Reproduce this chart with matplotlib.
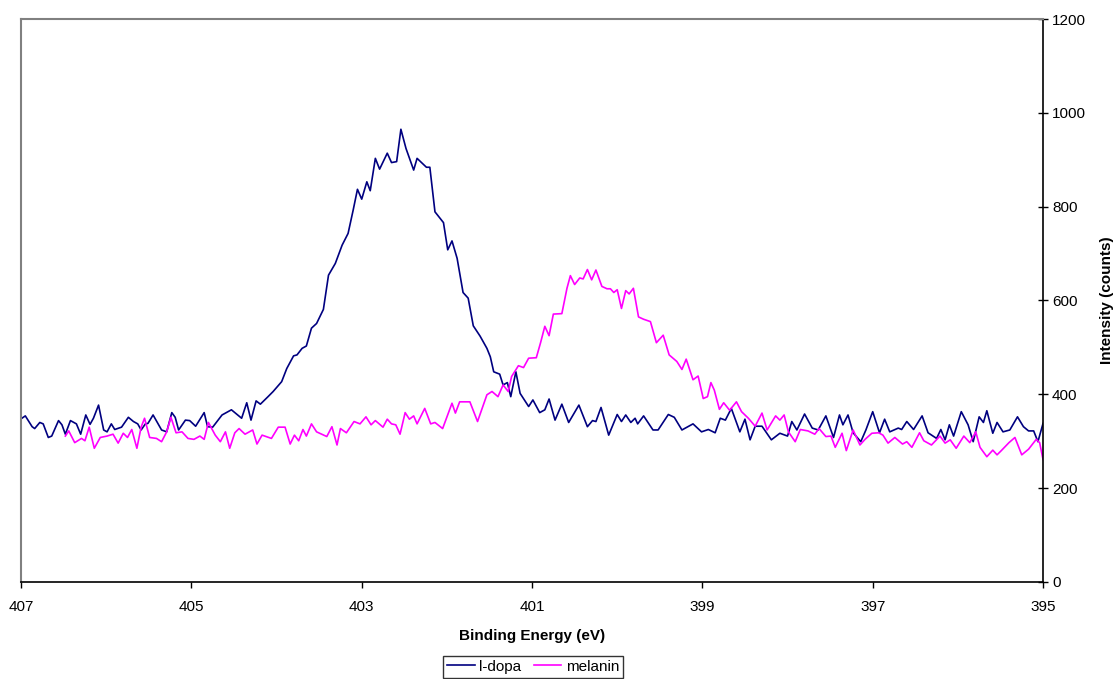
import matplotlib
matplotlib.use("Agg")
import matplotlib.pyplot as plt

plt.rcParams['font.family'] = ['Liberation Sans', 'DejaVu Sans']

# N 1s spectra
ldopa_ev = [406.99, 406.95, 406.87, 406.84, 406.78, 406.74, 406.68, 406.64, 406.56, 406.52,
            406.48, 406.42, 406.35, 406.30, 406.24, 406.19, 406.15, 406.09, 406.03, 405.99,
            405.94, 405.90, 405.82, 405.74, 405.68, 405.63, 405.59, 405.54, 405.51, 405.45,
            405.35, 405.29, 405.23, 405.19, 405.15, 405.07, 405.02, 404.95, 404.85, 404.81,
            404.75, 404.64, 404.53, 404.41, 404.35, 404.30, 404.24, 404.19, 404.10, 404.04,
            403.94, 403.88, 403.80, 403.76, 403.70, 403.65, 403.59, 403.53, 403.45, 403.39,
            403.31, 403.23, 403.16, 403.10, 403.05, 403.00, 402.94, 402.90, 402.84, 402.79,
            402.70, 402.65, 402.59, 402.54, 402.48, 402.39, 402.35, 402.24, 402.20, 402.14,
            402.04, 401.99, 401.94, 401.88, 401.81, 401.75, 401.69, 401.61, 401.53, 401.49,
            401.45, 401.38, 401.34, 401.29, 401.25, 401.19, 401.14, 401.04, 400.99, 400.91,
            400.85, 400.80, 400.73, 400.65, 400.57, 400.45, 400.35, 400.29, 400.25, 400.19,
            400.10, 400.00, 399.95, 399.90, 399.84, 399.79, 399.76, 399.69, 399.58, 399.52,
            399.40, 399.33, 399.24, 399.11, 399.01, 398.93, 398.85, 398.79, 398.73, 398.66,
            398.56, 398.50, 398.44, 398.38, 398.30, 398.19, 398.09, 398.00, 397.95, 397.89,
            397.80, 397.71, 397.64, 397.55, 397.46, 397.39, 397.35, 397.29, 397.23, 397.14,
            397.08, 397.00, 396.92, 396.86, 396.80, 396.70, 396.66, 396.60, 396.52, 396.42,
            396.35, 396.25, 396.20, 396.15, 396.10, 396.05, 395.96, 395.88, 395.82, 395.75,
            395.70, 395.66, 395.59, 395.54, 395.47, 395.39, 395.30, 395.23, 395.17, 395.11,
            395.06, 395.00]
ldopa_counts = [349, 354, 331, 327, 340, 337, 308, 311, 344, 335,
                315, 344, 337, 315, 356, 336, 349, 377, 324, 320,
                337, 325, 330, 351, 342, 337, 324, 337, 338, 356,
                324, 320, 361, 351, 324, 345, 344, 332, 361, 331,
                330, 356, 367, 349, 382, 345, 386, 379, 395, 406,
                427, 455, 482, 484, 498, 503, 541, 551, 581, 654,
                679, 718, 743, 793, 837, 816, 853, 834, 903, 880,
                914, 894, 896, 965, 924, 878, 903, 884, 884, 789,
                766, 708, 727, 690, 617, 605, 546, 524, 498, 480,
                448, 443, 420, 425, 395, 448, 402, 374, 388, 361,
                367, 390, 345, 379, 340, 377, 331, 344, 342, 372,
                313, 357, 342, 356, 340, 349, 337, 354, 324, 324,
                357, 351, 324, 337, 320, 325, 318, 349, 345, 370,
                320, 347, 303, 332, 332, 303, 317, 311, 342, 324,
                358, 328, 324, 354, 308, 356, 335, 356, 318, 299,
                324, 363, 318, 347, 320, 328, 325, 342, 325, 354,
                318, 306, 325, 303, 335, 311, 363, 335, 299, 352,
                340, 365, 317, 340, 320, 324, 352, 331, 322, 322,
                299, 338]

melanin_ev = [406.48, 406.44, 406.37, 406.29, 406.25, 406.20, 406.14, 406.07, 405.99, 405.92,
              405.86, 405.80, 405.75, 405.70, 405.64, 405.59, 405.55, 405.49, 405.41, 405.35,
              405.29, 405.24, 405.18, 405.11, 405.04, 404.97, 404.90, 404.85, 404.80, 404.72,
              404.66, 404.60, 404.55, 404.49, 404.44, 404.37, 404.28, 404.23, 404.17, 404.06,
              403.98, 403.90, 403.84, 403.79, 403.74, 403.69, 403.65, 403.59, 403.53, 403.41,
              403.35, 403.29, 403.25, 403.18, 403.09, 403.02, 402.95, 402.89, 402.84, 402.75,
              402.70, 402.65, 402.60, 402.55, 402.49, 402.44, 402.39, 402.35, 402.26, 402.19,
              402.14, 402.05, 401.94, 401.90, 401.85, 401.73, 401.64, 401.53, 401.47, 401.40,
              401.34, 401.28, 401.24, 401.16, 401.10, 401.04, 400.95, 400.90, 400.85, 400.80,
              400.75, 400.65, 400.59, 400.55, 400.50, 400.44, 400.40, 400.35, 400.30, 400.25,
              400.18, 400.12, 400.08, 400.04, 400.00, 399.95, 399.90, 399.86, 399.81, 399.75,
              399.69, 399.61, 399.54, 399.46, 399.39, 399.30, 399.24, 399.19, 399.11, 399.05,
              398.99, 398.94, 398.90, 398.86, 398.80, 398.75, 398.68, 398.60, 398.54, 398.46,
              398.38, 398.30, 398.24, 398.14, 398.09, 398.04, 397.99, 397.91, 397.85, 397.76,
              397.68, 397.63, 397.55, 397.49, 397.44, 397.36, 397.31, 397.23, 397.15, 397.09,
              397.01, 396.93, 396.88, 396.82, 396.74, 396.65, 396.60, 396.54, 396.45, 396.40,
              396.31, 396.21, 396.15, 396.09, 396.02, 395.93, 395.86, 395.79, 395.74, 395.66,
              395.59, 395.54, 395.49, 395.40, 395.33, 395.25, 395.17, 395.08, 395.04, 395.00]
melanin_counts = [311, 322, 297, 306, 301, 330, 285, 308, 311, 315,
                  296, 317, 308, 325, 285, 330, 349, 308, 306, 299,
                  320, 351, 318, 320, 306, 304, 311, 304, 340, 313,
                  299, 320, 285, 318, 327, 315, 324, 294, 313, 306,
                  330, 330, 294, 313, 301, 325, 311, 337, 320, 310,
                  331, 292, 327, 318, 342, 337, 352, 335, 344, 330,
                  347, 337, 335, 315, 361, 347, 354, 337, 370, 337,
                  340, 327, 381, 360, 384, 384, 342, 399, 406, 395,
                  420, 406, 438, 461, 457, 477, 478, 510, 545, 525,
                  571, 572, 626, 653, 634, 648, 646, 666, 644, 665,
                  630, 625, 625, 617, 623, 583, 621, 614, 626, 565,
                  560, 555, 510, 526, 484, 470, 453, 475, 431, 439,
                  391, 395, 425, 409, 368, 382, 366, 384, 363, 349,
                  332, 360, 324, 354, 345, 356, 320, 299, 325, 322,
                  315, 327, 310, 311, 287, 317, 280, 324, 292, 304,
                  317, 318, 313, 296, 308, 294, 299, 287, 318, 301,
                  292, 311, 296, 303, 285, 311, 297, 320, 287, 267,
                  281, 271, 280, 297, 308, 271, 283, 304, 297, 261]

x_ticks = [407, 405, 403, 401, 399, 397, 395]
y_ticks = [0, 200, 400, 600, 800, 1000, 1200]

fig = plt.figure(figsize=(11.14, 6.79), dpi=100)
ax = fig.add_axes([0.0189, 0.1429, 0.9174, 0.8291])

ax.plot(ldopa_ev, ldopa_counts, color='#000080', linewidth=1.2, label='l-dopa')
ax.plot(melanin_ev, melanin_counts, color='#FF00FF', linewidth=1.2, label='melanin')

ax.set_xlim(407, 395)
ax.set_ylim(0, 1200)
ax.set_xticks(x_ticks)
ax.set_yticks(y_ticks)

ax.yaxis.tick_right()
ax.yaxis.set_label_position('right')
ax.tick_params(axis='x', direction='out', length=4, width=1, pad=9, labelsize=11)
ax.tick_params(axis='y', direction='inout', length=7, width=1, pad=3, labelsize=11)

for side in ['top', 'left']:
    ax.spines[side].set_color('#808080')
    ax.spines[side].set_linewidth(1.5)
for side in ['bottom', 'right']:
    ax.spines[side].set_color('black')
    ax.spines[side].set_linewidth(1.2)

ax.set_xlabel('Binding Energy (eV)', fontsize=11, fontweight='bold', labelpad=11)
ax.set_ylabel('Intensity (counts)', fontsize=11, fontweight='bold', labelpad=10)

leg = fig.legend(loc='upper center', bbox_to_anchor=(0.4785, 0.034), ncol=2,
                 fontsize=11, frameon=True, fancybox=False, edgecolor='black',
                 handlelength=1.8, handletextpad=0.3, columnspacing=0.8,
                 borderpad=0.25, borderaxespad=0)
leg.get_frame().set_linewidth(1.0)

fig.savefig('out.png', dpi=100)
